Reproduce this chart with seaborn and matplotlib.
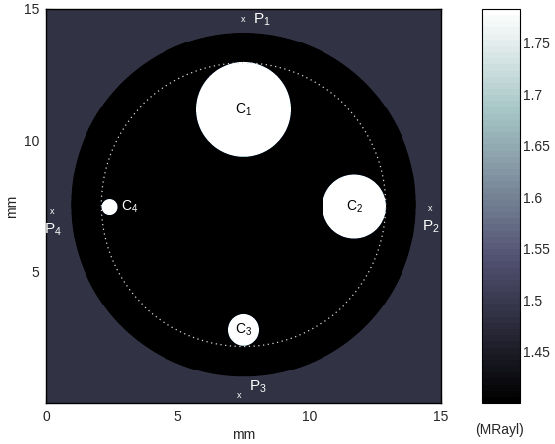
import matplotlib
matplotlib.use("Agg")
import matplotlib.pyplot as plt
import matplotlib.transforms as mtransforms
import numpy as np
import pandas as pd
import seaborn as sns

# Phantom geometry (mm) and acoustic impedance values (MRayl)
extent_mm = 15.0
grid_n = 400
supersample = 4
background_value = 1.488
disk_center = (7.5, 7.55)
disk_radius = 6.55
disk_value = 1.40
inclusion_x = [7.5, 11.7, 7.5, 2.42]
inclusion_y = [11.18, 7.48, 2.78, 7.46]
inclusion_r = [1.8, 1.2, 0.6, 0.3]
inclusion_value = 1.78
inclusion_labels = ["C$_1$", "C$_2$", "C$_3$", "C$_4$"]

ring_radius = 5.4  # dotted circle

probe_x = [7.5, 14.6, 7.35, 0.25]
probe_y = [14.6, 7.4, 0.3, 7.3]
probe_labels = ["P$_1$", "P$_2$", "P$_3$", "P$_4$"]

vmin, vmax = 1.40, 1.783
cbar_ticks = [1.45, 1.5, 1.55, 1.6, 1.65, 1.7, 1.75]
axis_ticks_x = [0, 5, 10, 15]
axis_ticks_y = [5, 10, 15]

# build the impedance map on a fine grid, then average down (smooth edges)
n_fine = grid_n * supersample
centres = (np.arange(n_fine) + 0.5) * extent_mm / n_fine
xx, yy = np.meshgrid(centres, extent_mm - centres)
fine = np.full_like(xx, background_value)
fine[(xx - disk_center[0]) ** 2 + (yy - disk_center[1]) ** 2 <= disk_radius ** 2] = disk_value
for cx, cy, r in zip(inclusion_x, inclusion_y, inclusion_r):
    fine[(xx - cx) ** 2 + (yy - cy) ** 2 <= r ** 2] = inclusion_value
field = fine.reshape(grid_n, supersample, grid_n, supersample).mean(axis=(1, 3))
field_df = pd.DataFrame(field)

sns.set_style("ticks")
plt.rcParams["font.family"] = ["Liberation Sans", "DejaVu Sans"]
plt.rcParams["mathtext.fontset"] = "custom"
plt.rcParams["mathtext.rm"] = "Liberation Sans"
plt.rcParams["mathtext.it"] = "Liberation Sans"
plt.rcParams["mathtext.default"] = "regular"

fig = plt.figure(figsize=(5.55, 4.44), dpi=100)
ax = fig.add_axes([46 / 555, 41 / 444, 395 / 555, 394 / 444])
cax = fig.add_axes([482 / 555, 41 / 444, 38 / 555, 394 / 444])

sns.heatmap(
    field_df,
    cmap=plt.get_cmap("bone", 64),
    vmin=vmin,
    vmax=vmax,
    xticklabels=False,
    yticklabels=False,
    cbar_ax=cax,
    ax=ax,
)

# transform from mm to heatmap cell coordinates
scale = grid_n / extent_mm
mm = mtransforms.Affine2D().scale(scale, -scale).translate(0, grid_n) + ax.transData

theta = np.linspace(0, 2 * np.pi, 400)
ax.plot(
    disk_center[0] + ring_radius * np.cos(theta),
    disk_center[1] + ring_radius * np.sin(theta),
    color="#d8d8d8",
    lw=0.9,
    linestyle=(0, (1, 2.8)),
    transform=mm,
)

for cx, cy, lab in zip(inclusion_x[:3], inclusion_y[:3], inclusion_labels[:3]):
    ax.text(cx, cy, lab, transform=mm, ha="center", va="center", fontsize=10, color="black")
ax.text(inclusion_x[3] + 0.42, inclusion_y[3], inclusion_labels[3], transform=mm,
        ha="left", va="center", fontsize=10, color="white")

# probes: small x mark plus label
offsets = [(0.35, 0.0, "left", "center"), (0.0, -0.7, "center", "center"),
           (0.35, 0.3, "left", "center"), (0.0, -0.7, "center", "center")]
for px, py, lab, (dx, dy, ha, va) in zip(probe_x, probe_y, probe_labels, offsets):
    ax.text(px, py, "x", transform=mm, ha="center", va="center", fontsize=6.5, color="white")
    ax.text(px + dx, py + dy, lab, transform=mm, ha=ha, va=va, fontsize=11, color="white")

ax.set_xticks([v * scale for v in axis_ticks_x])
ax.set_xticklabels([str(v) for v in axis_ticks_x], fontsize=10)
ax.set_yticks([grid_n - v * scale for v in axis_ticks_y])
ax.set_yticklabels([str(v) for v in axis_ticks_y], fontsize=10, rotation=0)
ax.tick_params(direction="in", length=4, width=0.8, top=True, right=True, color="black", pad=5)
ax.set_xlabel("mm", fontsize=10, labelpad=3)
ax.set_ylabel("mm", fontsize=10, labelpad=3)
for sp in ax.spines.values():
    sp.set_visible(True)
    sp.set_color("black")
    sp.set_linewidth(1.0)

cb = ax.collections[0].colorbar
cb.outline.set_visible(True)
cb.outline.set_linewidth(0.8)
cb.outline.set_edgecolor("black")
cb.set_ticks(cbar_ticks)
cb.set_ticklabels([f"{t:g}" for t in cbar_ticks])
cax.tick_params(direction="in", length=4, width=0.8, left=True, right=True,
                labelsize=10, color="black", pad=2)
fig.text(500 / 555, 1 - 430 / 444, "(MRayl)", ha="center", va="center", fontsize=10)

fig.savefig("out.png", dpi=100, facecolor="white")
